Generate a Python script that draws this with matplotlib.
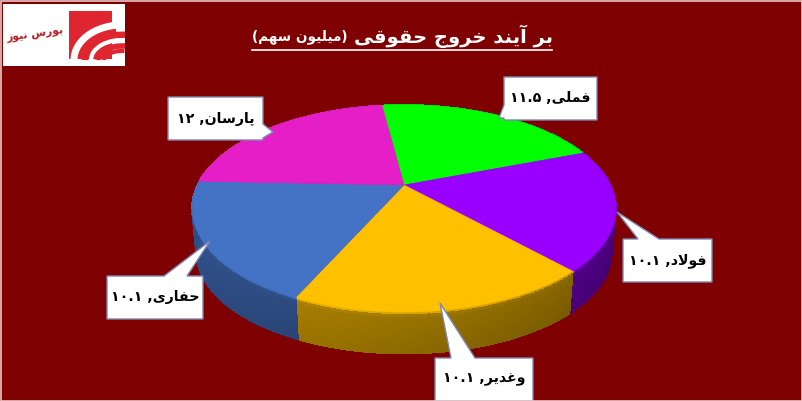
import numpy as np
import matplotlib

matplotlib.use("Agg")
import matplotlib.pyplot as plt
from matplotlib.collections import PolyCollection
from matplotlib.patches import Arc, Polygon, Rectangle

names = ["فملی", "فولاد", "وغدیر", "حفاری", "پارسان"]
values = [11.5, 10.1, 10.1, 10.1, 12]
top_colors = ["#00ff00", "#9900ff", "#ffc000", "#4472c4", "#e61ec8"]
title_main = "بر آیند خروج حقوقی"
title_unit = "(میلیون سهم)"
logo_text = "بورس نیوز"

# box (x0, y0, x1, y1), tail tip, tail base on the box edge
label_boxes = [
    ((504, 77, 597, 120), (499, 118), ((504, 105), (504, 118))),
    ((623, 239, 712, 282), (617, 212), ((638, 239), (659, 239))),
    ((435, 358, 533, 401), (440, 303), ((451, 358), (475, 358))),
    ((107, 276, 203, 319), (210, 241), ((164, 276), (187, 276))),
    ((168, 97, 263, 140), (273, 132), ((263, 124), (263, 138))),
]

FORMS = {
    "ا": "\ufe8d\ufe8e", "آ": "\ufe81\ufe82", "د": "\ufea9\ufeaa", "ر": "\ufead\ufeae",
    "ز": "\ufeaf\ufeb0", "و": "\ufeed\ufeee", "\ufefb": "\ufefb\ufefc",
    "ب": "\ufe8f\ufe90\ufe91\ufe92", "پ": "\ufb56\ufb57\ufb58\ufb59",
    "ج": "\ufe9d\ufe9e\ufe9f\ufea0", "ح": "\ufea1\ufea2\ufea3\ufea4",
    "خ": "\ufea5\ufea6\ufea7\ufea8", "س": "\ufeb1\ufeb2\ufeb3\ufeb4",
    "غ": "\ufecd\ufece\ufecf\ufed0", "ف": "\ufed1\ufed2\ufed3\ufed4",
    "ق": "\ufed5\ufed6\ufed7\ufed8", "ل": "\ufedd\ufede\ufedf\ufee0",
    "م": "\ufee1\ufee2\ufee3\ufee4", "ن": "\ufee5\ufee6\ufee7\ufee8",
    "ه": "\ufee9\ufeea\ufeeb\ufeec", "ی": "\ufbfc\ufbfd\ufbfe\ufbff",
}


def shape(txt):
    # matplotlib has no arabic shaping, so pick the joined forms and reverse
    txt = txt.replace("لا", "\ufefb")
    out = []
    for i, ch in enumerate(txt):
        if ch not in FORMS:
            out.append({"(": ")", ")": "("}.get(ch, ch))
            continue
        prev = txt[i - 1] if i else " "
        nxt = txt[i + 1] if i + 1 < len(txt) else " "
        after = prev in FORMS and len(FORMS[prev]) == 4
        before = nxt in FORMS and len(FORMS[ch]) == 4
        f = FORMS[ch]
        if after and before:
            out.append(f[3])
        elif after:
            out.append(f[1])
        elif before:
            out.append(f[2])
        else:
            out.append(f[0])
    return "".join(out[::-1])


def fa_number(v):
    return f"{v:g}".translate(str.maketrans("0123456789", "۰۱۲۳۴۵۶۷۸۹"))


# perspective view of the pie disc, theta clockwise from 12 o'clock
CX, CY = 404, 185
A, B, K = 206.4, 98.2, 0.227
DEPTH = 44


def project(theta, r=1.0, shift=0.0, scale=1.0):
    u, v = r * np.sin(theta), r * np.cos(theta)
    d = 1 + K * v
    return CX + scale * A * u / d, CY + shift - scale * B * v / d


fig = plt.figure(figsize=(8.02, 4.01), dpi=100, facecolor="#7f0000")
ax = fig.add_axes([0, 0, 1, 1])
ax.set_xlim(0, 802)
ax.set_ylim(401, 0)
ax.axis("off")

ax.add_patch(Rectangle((0.5, 0.5), 801, 400, fc="none", ec="#e8c8c8", lw=1.2, zorder=9))

# slices
frac = np.array(values) / np.sum(values)
edges = np.radians(-7.5 + 360 * np.concatenate([[0], np.cumsum(frac)]))

# side wall first, the top covers the back part
side_polys, side_cols = [], []
levels = np.linspace(0, 1, 15)
for i, col in enumerate(top_colors):
    base = np.array(matplotlib.colors.to_rgb(col))
    th = np.linspace(edges[i], edges[i + 1], 70)
    for t0, t1 in zip(th[:-1], th[1:]):
        # brighter towards the left
        side_light = 0.55 + 0.12 * np.sin(-(t0 + t1) / 2)
        for s0, s1 in zip(levels[:-1], levels[1:]):
            x00, y00 = project(t0, shift=DEPTH * s0, scale=1 - 0.02 * s0)
            x10, y10 = project(t1, shift=DEPTH * s0, scale=1 - 0.02 * s0)
            x11, y11 = project(t1, shift=DEPTH * s1, scale=1 - 0.02 * s1)
            x01, y01 = project(t0, shift=DEPTH * s1, scale=1 - 0.02 * s1)
            side_polys.append([(x00, y00), (x10, y10), (x11, y11), (x01, y01)])
            bevel = 0.25 * max(0, 1 - s0 / 0.08)
            side_cols.append(np.clip(base * (side_light + bevel + 0.06 * (1 - s0)), 0, 1))
ax.add_collection(PolyCollection(side_polys, facecolors=side_cols, edgecolors=side_cols, linewidths=0.6,
                                 antialiaseds=False, zorder=2))

for i, col in enumerate(top_colors):
    th = np.linspace(edges[i], edges[i + 1], 120)
    x, y = project(th)
    pts = np.column_stack([np.r_[CX, x], np.r_[CY, y]])
    ax.add_patch(Polygon(pts, closed=True, fc=col, ec=col, lw=0.4, zorder=3))

# callouts
for name, val, (box, tip, base) in zip(names, values, label_boxes):
    x0, y0, x1, y1 = box
    if base[0][1] == base[1][1]:
        pts = [(x0, y0), base[0], tip, base[1], (x1, y0), (x1, y1), (x0, y1)]
    elif base[0][0] == x0:
        pts = [(x0, y0), (x1, y0), (x1, y1), (x0, y1), base[1], tip, base[0]]
    else:
        pts = [(x0, y0), (x1, y0), base[0], tip, base[1], (x1, y1), (x0, y1)]
    ax.add_patch(Polygon(pts, closed=True, fc="white", ec="#7f86b0", lw=1.0, zorder=5))
    ax.text((x0 + x1) / 2, (y0 + y1) / 2, f"{fa_number(val)} ,{shape(name)}", ha="center", va="center",
            fontsize=10.2, fontweight="bold", color="black", family="DejaVu Sans", zorder=6)

# title
ax.text(553, 36, shape(title_main), ha="right", va="center", color="white", fontsize=14, fontweight="bold", zorder=6)
ax.text(348, 37, shape(title_unit), ha="right", va="center", color="white", fontsize=9.8, fontweight="bold", zorder=6)
ax.plot([252, 552], [50, 50], color="white", lw=1.2, zorder=6)

# logo
logo_bg = Rectangle((3, 4), 122, 62, fc="white", ec="none", zorder=6)
ax.add_patch(logo_bg)
ax.add_patch(Rectangle((69, 11), 43, 48, fc="#df2530", ec="none", zorder=7))
ax.add_patch(Rectangle((105, 25), 11, 10, fc="#df2530", ec="none", zorder=7))
for w, h, lw, col in [(96, 70, 5, "white"), (74, 50, 5, "#df2530"), (62, 40, 3, "white"), (48, 28, 4, "#df2530"), (36, 18, 3, "#df2530")]:
    arc = Arc((122, 60), w, h, theta1=180, theta2=285, color=col, lw=lw, zorder=8)
    ax.add_patch(arc)
    arc.set_clip_path(logo_bg)
ax.text(35, 35, shape(logo_text), ha="center", va="center", color="#b01c22", fontsize=7.8, fontweight="bold", rotation=8, zorder=8)

fig.savefig("out.png", dpi=100, facecolor=fig.get_facecolor())
plt.close(fig)
